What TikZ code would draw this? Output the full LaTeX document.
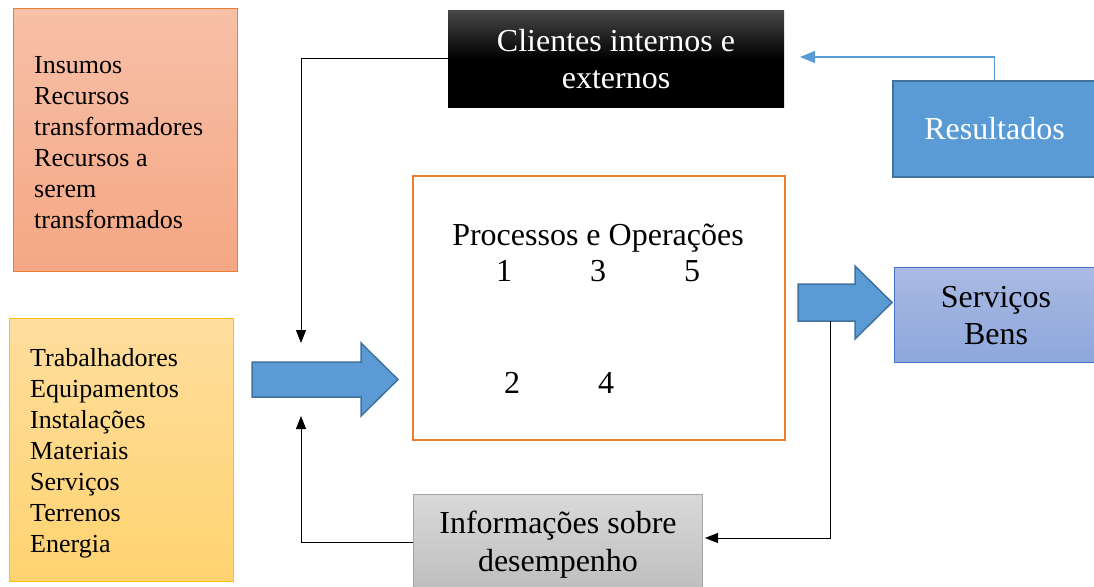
\documentclass[tikz,border=0pt]{standalone}
\usepackage{fontspec}
\setmainfont{Liberation Serif}
\usetikzlibrary{arrows.meta}
\definecolor{salmonTop}{RGB}{248,192,168}
\definecolor{salmonBot}{RGB}{244,167,132}
\definecolor{orangeLine}{RGB}{237,125,49}
\definecolor{yellowTop}{RGB}{255,222,158}
\definecolor{yellowBot}{RGB}{255,211,112}
\definecolor{yellowLine}{RGB}{255,192,0}
\definecolor{blueFill}{RGB}{91,155,213}
\definecolor{blueLine}{RGB}{65,113,156}
\definecolor{lavTop}{RGB}{170,186,227}
\definecolor{lavBot}{RGB}{141,167,220}
\definecolor{lavLine}{RGB}{68,114,196}
\definecolor{grayTop}{RGB}{217,217,217}
\definecolor{grayBot}{RGB}{190,190,190}
\definecolor{grayLine}{RGB}{165,165,165}
\definecolor{darkTop}{RGB}{70,70,70}
\tikzset{
  bigtext/.style={font=\fontsize{32}{37}\selectfont, align=center},
  smalltext/.style={font=\fontsize{26}{31}\selectfont, align=left, inner sep=0pt},
  rbox/.style={rectangle, inner sep=0pt},
  conn/.style={draw=black, line width=1pt, -{Triangle[width=10pt,length=13pt]}},
  blueconn/.style={draw=blueFill, line width=1.2pt, -{Triangle[width=12pt,length=15pt]}},
  blockarrow/.style={fill=blueFill, draw=blueLine, line width=1.5pt, line join=miter},
}
\begin{document}
\begin{tikzpicture}[x=1pt,y=-1pt]
\useasboundingbox (0,0) rectangle (1094,586);

% left boxes
\node[rbox, draw=orangeLine, line width=1pt, top color=salmonTop, bottom color=salmonBot,
      minimum width=224pt, minimum height=262pt] (insumos) at (125,140) {};
\node[smalltext, anchor=west] (insumosT) at (34,143)
  {Insumos\\Recursos\\transformadores\\Recursos a\\serem\\transformados};

\node[rbox, draw=yellowLine, line width=1pt, top color=yellowTop, bottom color=yellowBot,
      minimum width=224pt, minimum height=263pt] (recursos) at (121,449.5) {};
\node[smalltext, anchor=west] (recursosT) at (30,453)
  {Trabalhadores\\Equipamentos\\Instalações\\Materiais\\Serviços\\Terrenos\\Energia};

% top black box
\node[rbox, top color=darkTop, bottom color=black, middle color=black,
      minimum width=336pt, minimum height=96pt, bigtext, text=white] (cli) at (616,59)
  {Clientes internos e\\externos};

% Resultados
\node[rbox, fill=blueFill, draw=blueLine, line width=1.5pt,
      minimum width=203pt, minimum height=96pt, bigtext, text=white] (res) at (994.5,129)
  {Resultados};

% central process box
\node[rbox, draw=orangeLine, line width=2pt, fill=white,
      minimum width=372pt, minimum height=264pt] (proc) at (599,308) {};
\node[bigtext, inner sep=0pt] (procT) at (598,238) {Processos e Operações};
\node[bigtext, inner sep=0pt] (n1) at (504,271) {1};
\node[bigtext, inner sep=0pt] (n3) at (598,271) {3};
\node[bigtext, inner sep=0pt] (n5) at (692,271) {5};
\node[bigtext, inner sep=0pt] (n2) at (512,383) {2};
\node[bigtext, inner sep=0pt] (n4) at (606,383) {4};

% Servicos Bens
\node[rbox, draw=lavLine, line width=1pt, top color=lavTop, bottom color=lavBot,
      minimum width=202pt, minimum height=95pt, bigtext] (serv) at (995,314.5) {};
\node[bigtext, inner sep=0pt] (servT) at (996,316) {Serviços\\Bens};

% Informacoes box
\node[rbox, draw=grayLine, line width=1pt, top color=grayTop, bottom color=grayBot,
      minimum width=289pt, minimum height=96pt] (info) at (557.5,542) {};
\node[inner sep=0pt, font=\fontsize{32}{38}\selectfont, align=center] (infoT) at (558,545)
  {Informações sobre\\desempenho};

% block arrows
\draw[blockarrow] (252,362) -- (361,362) -- (361,343) -- (398,379.5) -- (361,416)
  -- (361,397) -- (252,397) -- cycle;
\draw[blockarrow] (798,284) -- (855,284) -- (855,266) -- (892,302.5) -- (855,339)
  -- (855,321) -- (798,321) -- cycle;

% connector end points
\coordinate (inTop) at (301,343);
\coordinate (inBot) at (301,416);
\coordinate (outBottom) at (830,321);
\coordinate (fbEnd) at (705,538);
\coordinate (resEnd) at (800,57);

\draw[conn] (cli.west) -| (inTop);
\draw[conn] (info.west) -| (inBot);
\draw[conn] (outBottom) |- (fbEnd);
\draw[blueconn] (res.north) |- (resEnd);
\end{tikzpicture}
\end{document}
